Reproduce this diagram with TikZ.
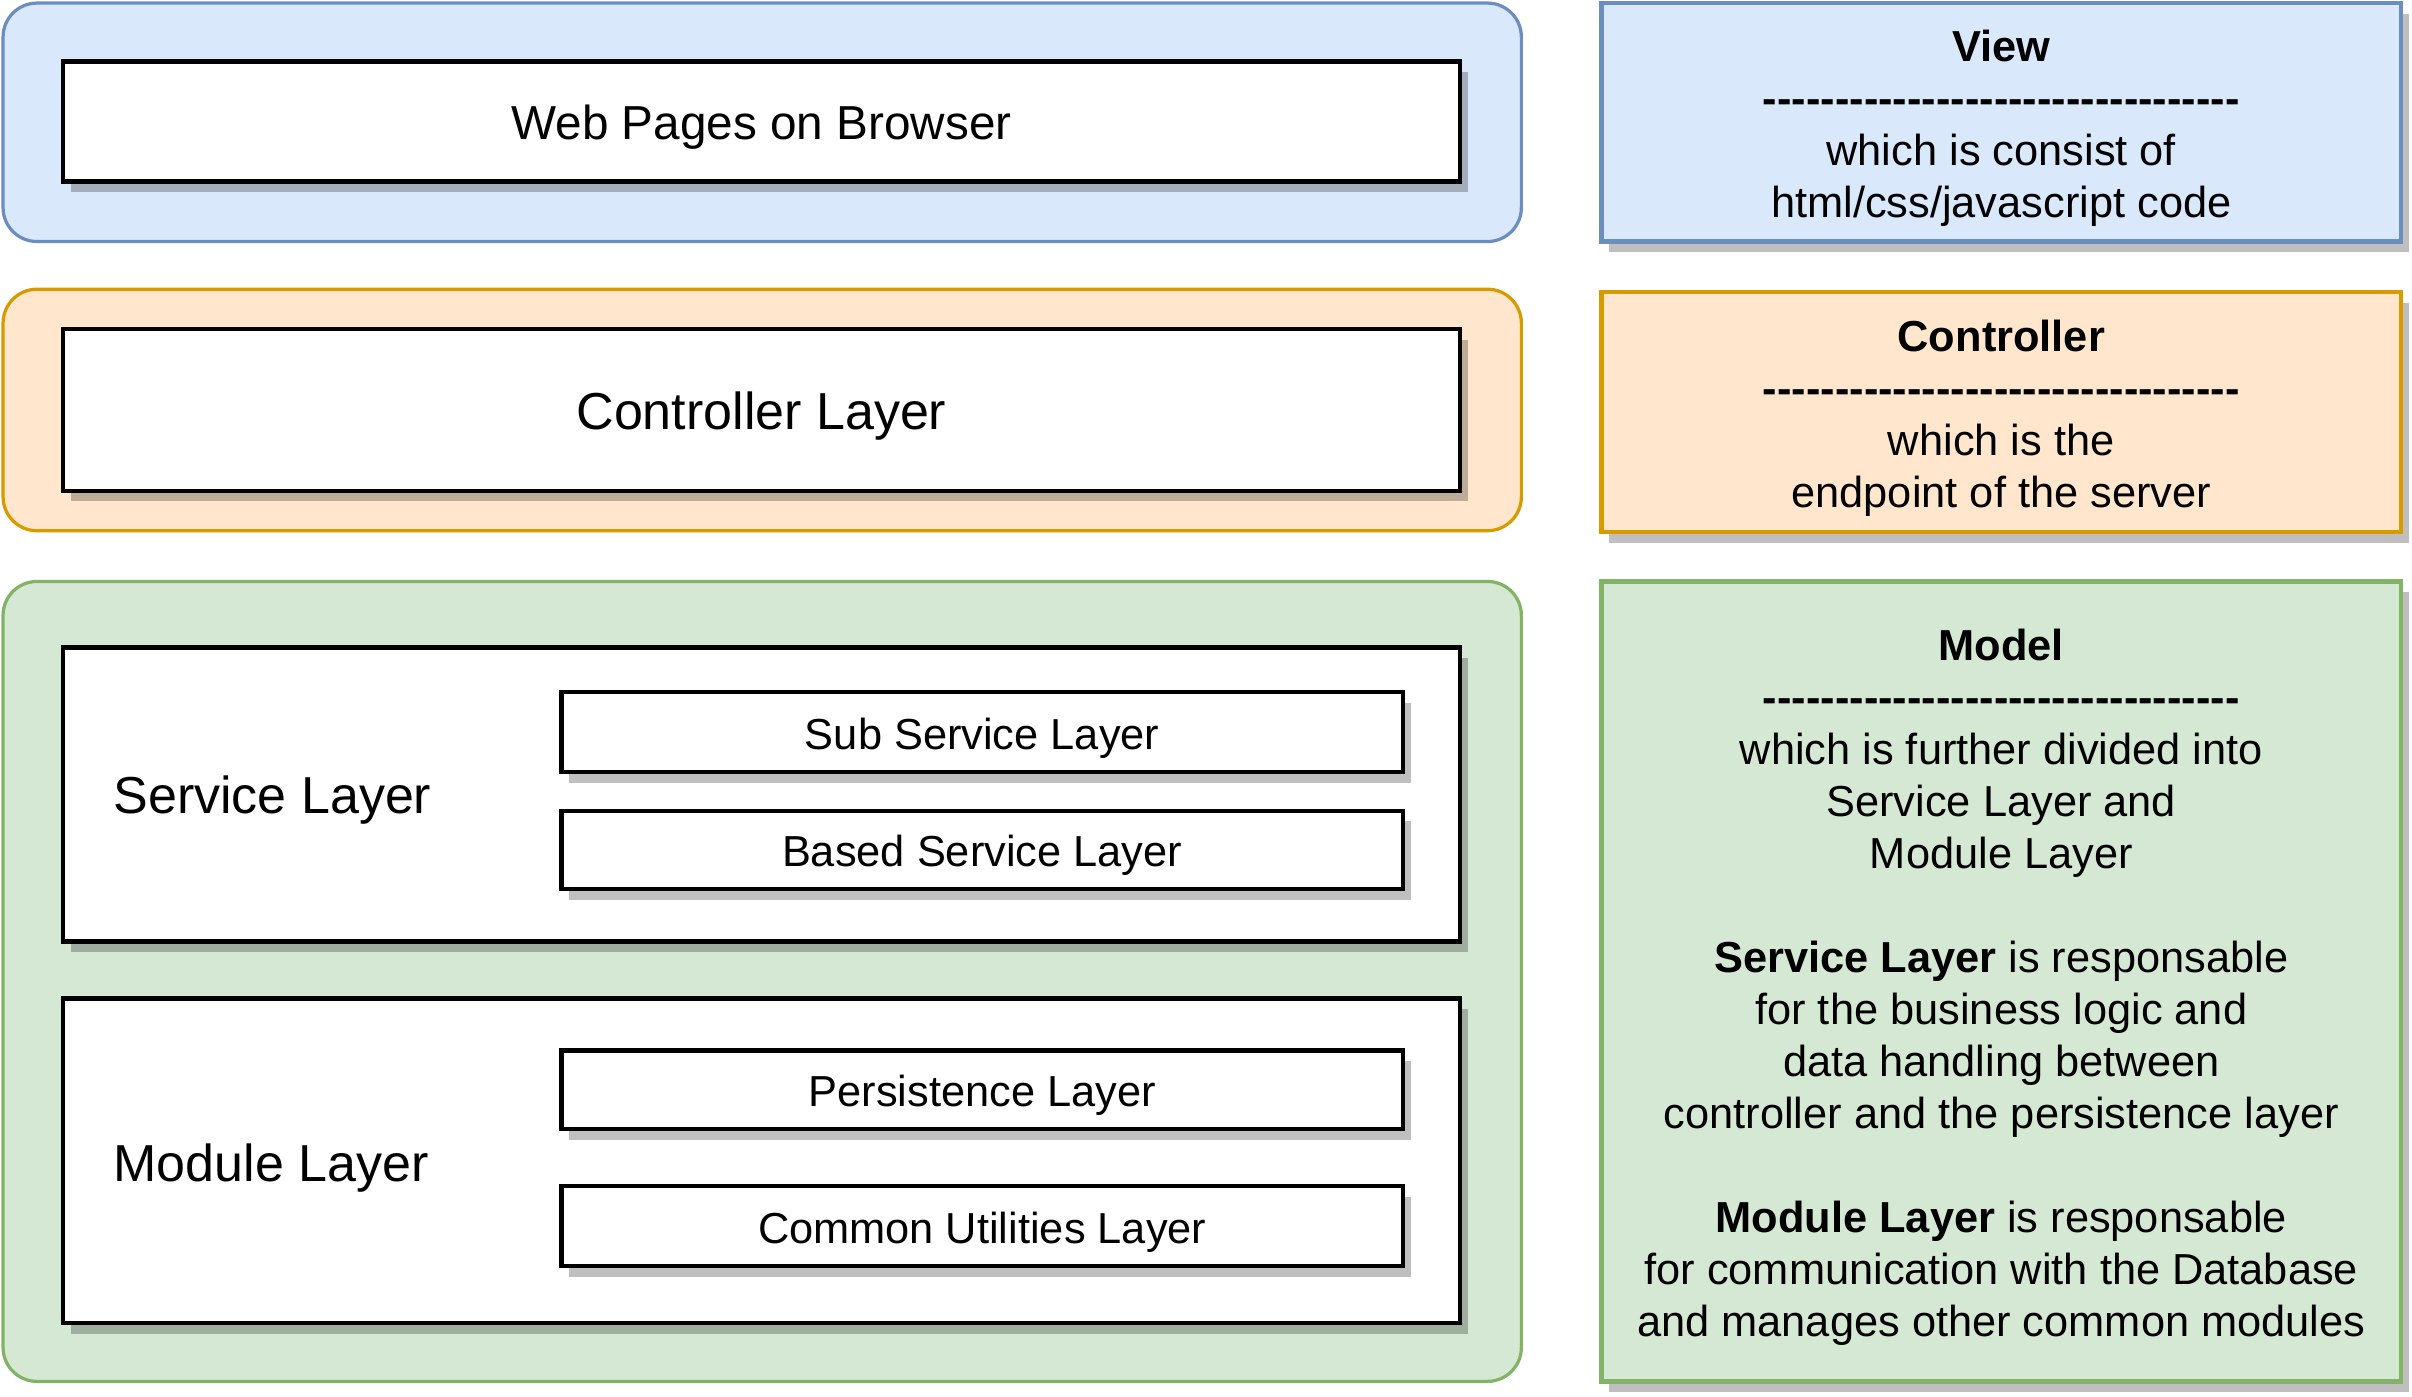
\documentclass[tikz,border=0pt]{standalone}
\usepackage{fontspec}
\setmainfont{Liberation Sans}
\usetikzlibrary{shadows,calc}
\definecolor{bluefill}{HTML}{DAE8FC}
\definecolor{bluedraw}{HTML}{6C8EBF}
\definecolor{orangefill}{HTML}{FFE6CC}
\definecolor{orangedraw}{HTML}{D79B00}
\definecolor{greenfill}{HTML}{D5E8D4}
\definecolor{greendraw}{HTML}{82B366}
\newcommand\fsA{\fontsize{28.2pt}{33.8pt}\selectfont}
\newcommand\fsB{\fontsize{31pt}{37.2pt}\selectfont}
\newcommand\fsC{\fontsize{33.8pt}{40.6pt}\selectfont}
\newcommand\dsh{\mbox{-}}
\newcommand\dashrow{\dsh\dsh\dsh\dsh\dsh\dsh\dsh\dsh\dsh\dsh\dsh\dsh\dsh\dsh\dsh\dsh\dsh\dsh\dsh\dsh\dsh\dsh\dsh\dsh\dsh\dsh\dsh\dsh\dsh\dsh\dsh\dsh\dsh}
\begin{document}
\begin{tikzpicture}[x=1pt,y=-1pt,
  cont/.style={rectangle, rounded corners=22pt, line width=2.1pt, inner sep=0pt, outer sep=0pt},
  shad/.style={drop shadow={shadow xshift=5pt, shadow yshift=-7pt, opacity=0.25, fill=black}},
  layer/.style={rectangle, draw=black, fill=white, line width=2.8pt, inner sep=0pt, shad},
  note/.style={rectangle, line width=2.8pt, inner sep=0pt, shad},
  txt/.style={inner sep=0pt, align=center, yshift=-3.8pt},
  lbl/.style={anchor=west, inner sep=0pt, font=\fsC, yshift=-3.8pt}
]
\useasboundingbox (0,0) rectangle (1568,908);

% containers
\node[cont, draw=bluedraw, fill=bluefill, minimum width=987pt, minimum height=155pt] (viewc) at (495.5,79.5) {};
\node[cont, draw=orangedraw, fill=orangefill, minimum width=987pt, minimum height=157pt] (ctrlc) at (495.5,266.5) {};
\node[cont, draw=greendraw, fill=greenfill, minimum width=987pt, minimum height=520pt] (modelc) at (495.5,638) {};

% layers
\node[layer, minimum width=908pt, minimum height=78pt] (web) at (495,79) {};
\node[txt, font=\fsB] (webtxt) at (web.center) {Web Pages on Browser};
\node[layer, minimum width=908pt, minimum height=105pt] (ctrl) at (495,266.5) {};
\node[txt, font=\fsC] (ctrltxt) at (ctrl.center) {Controller Layer};
\node[layer, minimum width=908pt, minimum height=191pt] (service) at (495,516.5) {};
\node[lbl] (servicelbl) at ($(service.west)+(34,0)$) {Service Layer};
\node[layer, minimum width=547pt, minimum height=52pt] (sub) at (638.5,476) {};
\node[txt, font=\fsA] (subtxt) at (sub.center) {Sub Service Layer};
\node[layer, minimum width=547pt, minimum height=51pt] (based) at (638.5,552.5) {};
\node[txt, font=\fsA] (basedtxt) at (based.center) {Based Service Layer};
\node[layer, minimum width=908pt, minimum height=211pt] (module) at (495,754.5) {};
\node[lbl] (modulelbl) at ($(module.west)+(34,1)$) {Module Layer};
\node[layer, minimum width=547pt, minimum height=51pt] (pers) at (638.5,708.5) {};
\node[txt, font=\fsA] (perstxt) at (pers.center) {Persistence Layer};
\node[layer, minimum width=547pt, minimum height=52pt] (common) at (638.5,797) {};
\node[txt, font=\fsA] (commontxt) at (common.center) {Common Utilities Layer};

% notes
\node[note, draw=bluedraw, fill=bluefill, minimum width=520pt, minimum height=155pt] (view) at (1301,79.5) {};
\node[txt, font=\fsA] (viewtxt) at (view.center)
  {\textbf{View}\\ \textbf{\dashrow}\\ which is consist of\\ html/css/javascript code};
\node[note, draw=orangedraw, fill=orangefill, minimum width=520pt, minimum height=156pt] (controller) at (1301,268) {};
\node[txt, font=\fsA] (controllertxt) at (controller.center)
  {\textbf{Controller}\\ \textbf{\dashrow}\\ which is the\\ endpoint of the server};
\node[note, draw=greendraw, fill=greenfill, minimum width=520pt, minimum height=520pt] (model) at (1301,638) {};
\node[txt, font=\fsA] (modeltxt) at (model.center)
  {\textbf{Model}\\ \textbf{\dashrow}\\ which is further divided into\\ Service Layer and\\ Module Layer\\[33.8pt]
   \textbf{Service Layer} is responsable\\ for the business logic and\\ data handling between\\ controller and the persistence layer\\[33.8pt]
   \textbf{Module Layer} is responsable\\ for communication with the Database\\ and manages other common modules};
\end{tikzpicture}
\end{document}
